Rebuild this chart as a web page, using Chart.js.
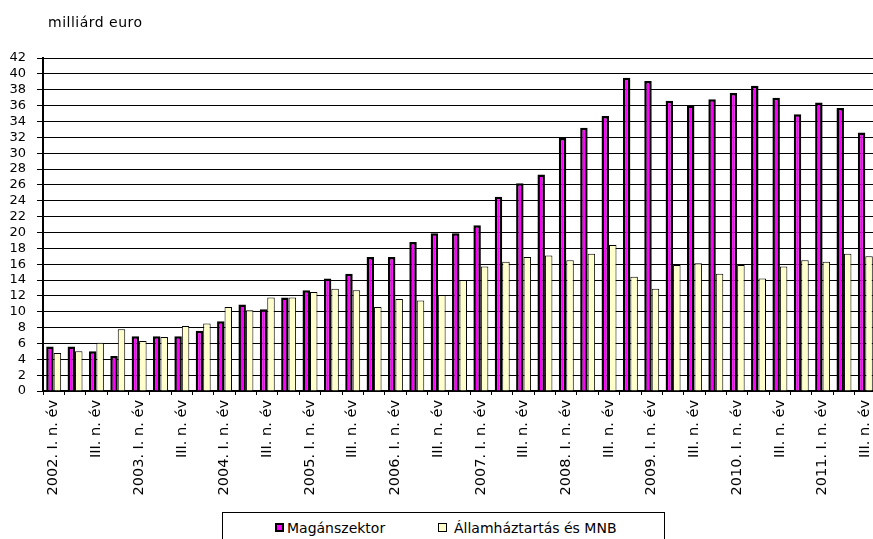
<!DOCTYPE html>
<html>
<head>
<meta charset="utf-8">
<title>milliárd euro</title>
<script src="https://cdn.jsdelivr.net/npm/chart.js@4.4.1/dist/chart.umd.min.js"></script>
<style>
  html, body { margin:0; padding:0; background:#fff; overflow:hidden; }
  #wrap { position:relative; width:873px; height:539px; overflow:hidden; }
  #chart { position:absolute; left:0; top:0; display:block; }
  #unit { position:absolute; left:48px; top:14px; font:14px "DejaVu Sans"; letter-spacing:0.5px; color:#000; white-space:nowrap; }
  #legend { position:absolute; left:222px; top:512px; width:443px; height:40px; border:1px solid #000; box-sizing:border-box; background:#fff; font:14px/16px "DejaVu Sans"; color:#000; }
  #legend .box { position:absolute; top:10px; width:9px; height:9px; box-sizing:border-box; border:1px solid #000; }
  #legend .txt { position:absolute; top:7px; white-space:nowrap; }
</style>
</head>
<body>
<div id="wrap">
  <canvas id="chart" width="890" height="539"></canvas>
  <div id="unit">milliárd euro</div>
  <div id="legend"></div>
</div>
<script>
// negyedéves adatok, milliárd euro
const $ = id => document.getElementById(id);

const categories = [
  '2002. I. n. év','II. n. év','III. n. év','IV. n. év',
  '2003. I. n. év','II. n. év','III. n. év','IV. n. év',
  '2004. I. n. év','II. n. év','III. n. év','IV. n. év',
  '2005. I. n. év','II. n. év','III. n. év','IV. n. év',
  '2006. I. n. év','II. n. év','III. n. év','IV. n. év',
  '2007. I. n. év','II. n. év','III. n. év','IV. n. év',
  '2008. I. n. év','II. n. év','III. n. év','IV. n. év',
  '2009. I. n. év','II. n. év','III. n. év','IV. n. év',
  '2010. I. n. év','II. n. év','III. n. év','IV. n. év',
  '2011. I. n. év','II. n. év','III. n. év'
];

const seriesNames = ['Magánszektor', 'Államháztartás és MNB'];
const seriesColors = ['#ff00ff', '#ffffcc'];

const maganszektor = [
  5.6, 5.6, 5.0, 4.4, 6.9, 6.9, 6.9, 7.6, 8.8, 10.9,
  10.3, 11.8, 12.7, 14.2, 14.8, 16.9, 16.9, 18.8, 19.9, 19.9,
  20.9, 24.5, 26.2, 27.3, 31.9, 33.2, 34.7, 39.5, 39.1, 36.6,
  36.0, 36.8, 37.6, 38.5, 37.0, 34.9, 36.4, 35.7, 32.6
];
const allamhaztartas = [
  4.8, 5.0, 6.1, 7.8, 6.3, 6.8, 8.2, 8.5, 10.6, 10.2,
  11.8, 11.8, 12.5, 12.9, 12.7, 10.6, 11.6, 11.4, 12.1, 14.0,
  15.7, 16.3, 16.9, 17.1, 16.5, 17.3, 18.4, 14.4, 12.9, 15.9,
  16.1, 14.8, 15.9, 14.2, 15.7, 16.5, 16.3, 17.3, 17.0
];

const yMin = 0, yMax = 42, yStep = 2;

const FONT = 'DejaVu Sans';

// legend (HTML, a box around it as in the original)
function buildLegend(){
  const lg = $('legend');
  const boxX = [52, 215];
  const txtX = [64, 231];
  seriesNames.forEach((name, i)=>{
    const b = document.createElement('div');
    b.className = 'box';
    b.style.left = boxX[i] + 'px';
    b.style.background = seriesColors[i];
    if(i === 0) b.style.borderWidth = '2px';
    lg.appendChild(b);
    const t = document.createElement('div');
    t.className = 'txt';
    t.style.left = txtX[i] + 'px';
    t.textContent = name;
    lg.appendChild(t);
  });
}

function drawChart(){
  new Chart($('chart'), {
    type: 'bar',
    data: {
      labels: categories,
      datasets: [
        { label: seriesNames[0], data: maganszektor, backgroundColor: seriesColors[0],
          borderColor: '#000', borderWidth: 2.5 },
        { label: seriesNames[1], data: allamhaztartas, backgroundColor: seriesColors[1],
          borderColor: '#000', borderWidth: 1 }
      ]
    },
    options: {
      responsive: false,
      animation: false,
      devicePixelRatio: 1,
      layout: { padding: { left: 0, right: 14, top: 58, bottom: 0 } },
      datasets: { bar: { categoryPercentage: 0.7, barPercentage: 1 } },
      plugins: { legend: { display: false }, tooltip: { enabled: false } },
      scales: {
        x: {
          grid: { offset: true, drawOnChartArea: false, color: '#000', tickLength: 4 },
          border: { color: '#000', width: 2 },
          ticks: {
            autoSkip: false, minRotation: 90, maxRotation: 90, padding: 5,
            color: '#000', font: { family: FONT, size: 14.5 },
            callback: (v, i) => i % 2 === 0 ? categories[i] : ''
          },
          afterFit: s => { s.height = 148; }
        },
        y: {
          min: yMin, max: yMax,
          ticks: { stepSize: yStep, autoSkip: false, padding: 11, color: '#000', font: { family: FONT, size: 13 } },
          grid: { color: '#000', lineWidth: 1, tickLength: 6 },
          border: { color: '#000', width: 2 },
          afterFit: s => { s.width = 43; }
        }
      }
    }
  });
}

buildLegend();
drawChart();
</script>
</body>
</html>
